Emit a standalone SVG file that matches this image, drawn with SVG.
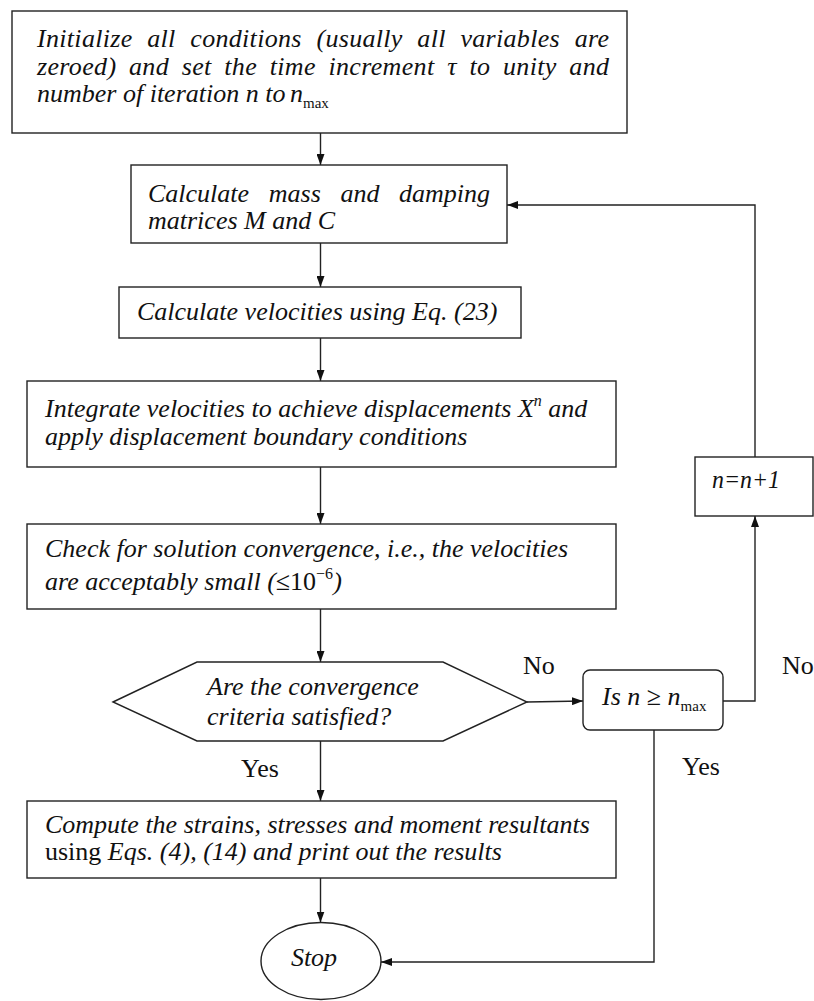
<svg xmlns="http://www.w3.org/2000/svg" width="814" height="1001" viewBox="0 0 814 1001">
  <style>
    .box { fill: #fff; stroke: #222; stroke-width: 1.4; }
    .t { font-family: "Liberation Serif", "Times New Roman", serif; font-size: 26px; font-style: italic; fill: #111; }
    .u { font-family: "Liberation Serif", "Times New Roman", serif; font-size: 26px; font-style: normal; fill: #111; }
    .sub { font-family: "Liberation Serif", "Times New Roman", serif; font-size: 15px; font-style: normal; }
    .conn { fill: none; stroke: #222; stroke-width: 1.4; }
  </style>
  <defs>
    <marker id="arr" markerWidth="11" markerHeight="8" refX="11" refY="4" orient="auto" markerUnits="userSpaceOnUse">
      <path d="M0,0 L11,4 L0,8 z" fill="#111"/>
    </marker>
  </defs>
  <rect width="814" height="1001" fill="#fff"/>

  <g id="connectors">
    <path class="conn" d="M320.5,133 V165" marker-end="url(#arr)"/>
    <path class="conn" d="M320.5,243 V287" marker-end="url(#arr)"/>
    <path class="conn" d="M320.5,338 V381" marker-end="url(#arr)"/>
    <path class="conn" d="M320.5,467 V524" marker-end="url(#arr)"/>
    <path class="conn" d="M320.5,609 V662" marker-end="url(#arr)"/>
    <path class="conn" d="M320.5,741 V801" marker-end="url(#arr)"/>
    <path class="conn" d="M320.5,878 V922.5" marker-end="url(#arr)"/>
    <path class="conn" d="M527,702 L583,701" marker-end="url(#arr)"/>
    <path class="conn" d="M723,701 H755 V516" marker-end="url(#arr)"/>
    <path class="conn" d="M755,457 V205 H507" marker-end="url(#arr)"/>
    <path class="conn" d="M654,730 V962 H381" marker-end="url(#arr)"/>
    <text class="u" x="523" y="674">No</text>
    <text class="u" x="782" y="674">No</text>
    <text class="u" x="241" y="777">Yes</text>
    <text class="u" x="682" y="775">Yes</text>
  </g>

  <g id="init">
    <rect class="box" x="12" y="11" width="615" height="122"/>
    <text class="t" x="37" y="47" word-spacing="7.9" textLength="572" lengthAdjust="spacing">Initialize all conditions (usually all variables are</text>
    <text class="t" x="37" y="75" word-spacing="5.8" textLength="572" lengthAdjust="spacing">zeroed) and set the time increment τ to unity and</text>
    <text class="t" x="37" y="102">number of iteration n to <tspan x="290">n</tspan><tspan class="sub" dy="6">max</tspan></text>
  </g>

  <g id="mass">
    <rect class="box" x="131" y="165" width="376" height="78"/>
    <text class="t" x="148" y="202" word-spacing="13.1" textLength="342" lengthAdjust="spacing">Calculate mass and damping</text>
    <text class="t" x="148" y="229">matrices  M and C</text>
  </g>

  <g id="velocities">
    <rect class="box" x="119" y="287" width="402" height="51"/>
    <text class="t" x="137" y="320">Calculate velocities using Eq. (23)</text>
  </g>

  <g id="integrate">
    <rect class="box" x="27" y="381" width="589" height="86"/>
    <text class="t" x="45" y="417">Integrate velocities to achieve displacements X<tspan font-size="16" dy="-11">n</tspan><tspan dy="11"> and</tspan></text>
    <text class="t" x="45" y="445">apply displacement boundary conditions</text>
  </g>

  <g id="check">
    <rect class="box" x="27" y="524" width="589" height="85"/>
    <text class="t" x="45" y="557">Check for solution convergence, i.e., the velocities</text>
    <text class="t" x="45" y="590">are acceptably small (<tspan font-style="normal">≤10</tspan><tspan font-style="normal" font-size="16" dy="-11">−6</tspan><tspan dy="11">)</tspan></text>
  </g>

  <g id="decision">
    <polygon class="box" points="113,702 197,662 443,662 527,702 443,741 197,741"/>
    <text class="t" x="207" y="695">Are the convergence</text>
    <text class="t" x="207" y="725">criteria satisfied?</text>
  </g>

  <g id="nmax">
    <rect class="box" x="583" y="670" width="140" height="60" rx="7" ry="7"/>
    <text class="t" x="602" y="705">Is <tspan>n</tspan><tspan font-style="normal"> ≥ </tspan>n<tspan class="sub" dy="6">max</tspan></text>
  </g>

  <g id="increment">
    <rect class="box" x="695" y="457" width="118" height="59"/>
    <text class="t" x="712" y="488" textLength="68" lengthAdjust="spacingAndGlyphs">n=n+1</text>
  </g>

  <g id="compute">
    <rect class="box" x="27" y="801" width="589" height="77"/>
    <text class="t" x="45" y="833">Compute the strains, stresses and moment resultants</text>
    <text class="t" x="45" y="860"><tspan font-style="normal">using</tspan> Eqs. (4), (14) and print out the results</text>
  </g>

  <g id="stop">
    <ellipse class="box" cx="321" cy="961" rx="60" ry="38.5"/>
    <text class="t" x="314" y="966" text-anchor="middle">Stop</text>
  </g>
</svg>
